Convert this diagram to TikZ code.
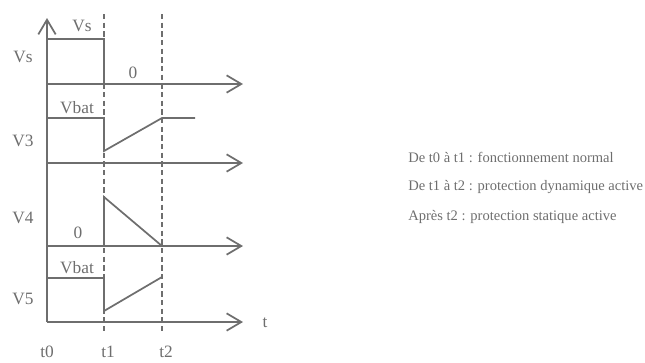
\documentclass[tikz,border=0pt]{standalone}
\usepackage{fontspec}
\setmainfont{Liberation Serif}
\usetikzlibrary{arrows.meta}
\definecolor{ink}{RGB}{110,110,110}
\begin{document}
\begin{tikzpicture}[x=0.75pt,y=-0.75pt,
  sig/.style={draw=ink,line width=1.3pt},
  axis/.style={draw=ink,line width=1.3pt,-{Straight Barb[length=11pt,width=13pt,line width=1.3pt]}},
  guide/.style={draw=ink,line width=1.1pt,dash pattern=on 4pt off 2.5pt},
  lab/.style={text=ink,font=\fontsize{13pt}{15pt}\selectfont,inner sep=0pt},
  note/.style={text=ink,font=\fontsize{10.9pt}{13pt}\selectfont,inner sep=0pt,anchor=west}]
\useasboundingbox (0,0) rectangle (645,362);
% guides
\draw[guide] (104,14) -- (104,334);
\draw[guide] (162,14) -- (162,334);
% vertical axis
\draw[axis] (47,322) -- (47,18);
% axes
\draw[axis] (47,84) -- (243,84);
\draw[axis] (47,163) -- (243,163);
\draw[axis] (47,246) -- (243,246);
\draw[axis] (47,322) -- (243,322);
% Vs
\draw[sig] (47,39) -- (104,39) -- (104,84);
% V3
\draw[sig] (47,118) -- (104,118) -- (104,151) -- (162,118) -- (195,118);
% V4
\draw[sig] (104,246) -- (104,197) -- (162,246);
% V5
\draw[sig] (47,278) -- (104,278) -- (104,311) -- (162,277);
% labels
\node[lab] (lvs1) at (82,26) {Vs};
\node[lab] (lvs) at (23,57) {Vs};
\node[lab] (l0a) at (133,73) {0};
\node[lab] (lvb3) at (77,108) {Vbat};
\node[lab] (lv3) at (23,141) {V3};
\node[lab] (lv4) at (23,218) {V4};
\node[lab] (l0b) at (78,233) {0};
\node[lab] (lvb5) at (77,268) {Vbat};
\node[lab] (lv5) at (23,299) {V5};
\node[lab] (lt) at (265,323) {t};
\node[lab] (lt0) at (47,352) {t0};
\node[lab] (lt1) at (108,352) {t1};
\node[lab] (lt2) at (166,352) {t2};
% notes
\node[note] (n1) at (408,157) {De t0 à t1 : fonctionnement normal};
\node[note] (n2) at (408,187) {De t1 à t2 : protection dynamique active};
\node[note] (n3) at (408,217) {Après t2 : protection statique active};
\end{tikzpicture}
\end{document}
